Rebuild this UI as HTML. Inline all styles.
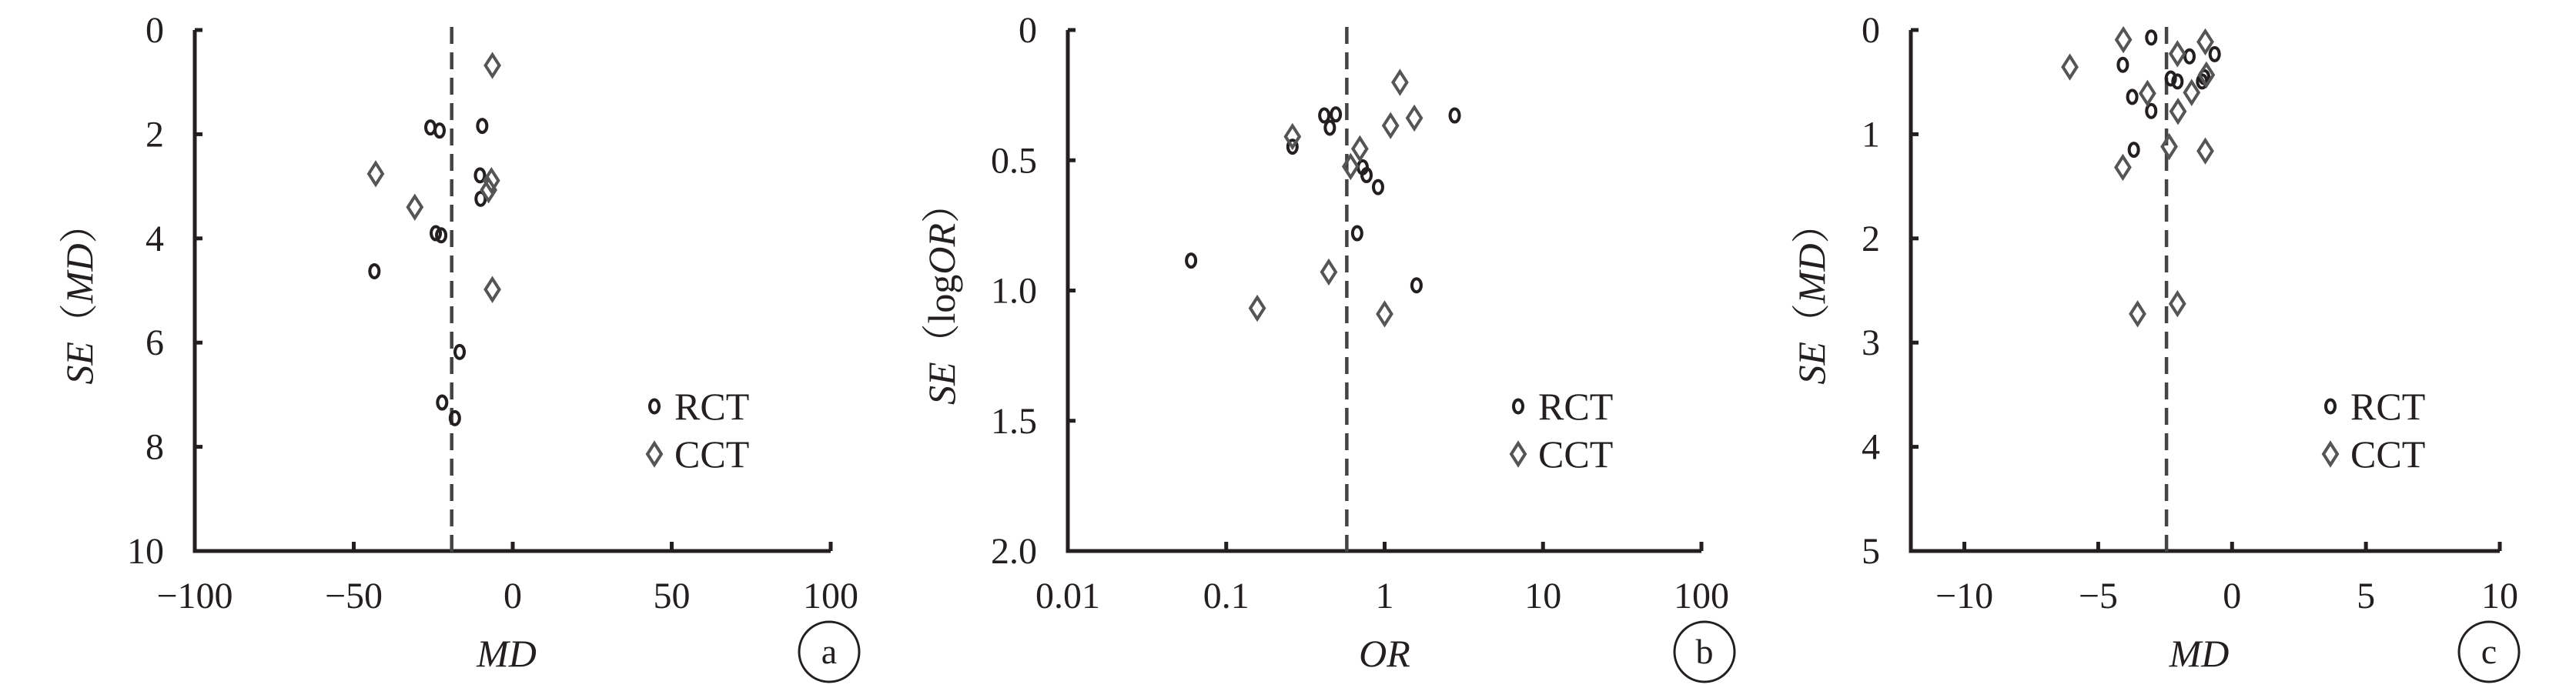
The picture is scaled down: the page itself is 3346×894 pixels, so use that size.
<!DOCTYPE html>
<html><head><meta charset="utf-8"><style>
html,body{margin:0;padding:0;background:#fff}
svg{display:block}
text{font-family:"Liberation Serif","Noto Serif CJK SC",serif;fill:#231f20}
</style></head><body>
<svg id="fig" width="3346" height="894" viewBox="0 0 3346 894"></svg>
<script>
// Panel a data (MD vs SE)
const aRctMD = [-25.9,-23.0,-9.6,-10.3,-10.1,-24.2,-22.5,-43.5,-16.7,-22.2,-18.2];
const aRctSE = [1.87,1.93,1.84,2.79,3.24,3.90,3.94,4.63,6.18,7.15,7.45];
const aCctMD = [-6.4,-43.1,-30.8,-6.7,-7.6,-6.4];
const aCctSE = [0.68,2.76,3.40,2.89,3.07,4.98];
const aPooled = -19.2;
const aXTicks = [-100,-50,0,50,100];
const aYTicks = [0,2,4,6,8,10];
// Panel b data (OR vs SE(logOR))
const bRctOR = [0.060,0.262,0.416,0.492,0.451,0.727,0.769,0.909,0.671,2.77,1.59];
const bRctSE = [0.885,0.448,0.328,0.324,0.375,0.527,0.557,0.603,0.780,0.328,0.980];
const bCctOR = [1.25,1.09,1.54,0.262,0.698,0.610,0.444,0.157,1.0];
const bCctSE = [0.201,0.367,0.338,0.409,0.456,0.524,0.929,1.068,1.090];
const bPooled = 0.577;
const bXTicks = [0.01,0.1,1,10,100];
const bXTickLabels = ["0.01","0.1","1","10","100"];
const bYTicks = [0,0.5,1.0,1.5,2.0];
const bYTickLabels = ["0","0.5","1.0","1.5","2.0"];
// Panel c data (MD vs SE)
const cRctMD = [-3.02,-4.08,-1.59,-0.65,-2.29,-2.04,-1.12,-1.04,-3.73,-3.02,-3.67];
const cRctSE = [0.072,0.334,0.253,0.232,0.465,0.494,0.494,0.452,0.642,0.777,1.149];
const cCctMD = [-4.06,-1.0,-6.06,-2.04,-3.16,-1.51,-0.96,-2.02,-2.35,-1.0,-4.08,-3.53,-2.04];
const cCctSE = [0.093,0.114,0.355,0.228,0.608,0.600,0.431,0.781,1.119,1.161,1.318,2.724,2.627];
const cPooled = -2.45;
const cXTicks = [-10,-5,0,5,10];
const cYTicks = [0,1,2,3,4,5];

const NS="http://www.w3.org/2000/svg";
const svg=document.getElementById('fig');
function mk(tag,attrs,parent){const e=document.createElementNS(NS,tag);for(const k in attrs)e.setAttribute(k,attrs[k]);(parent||svg).appendChild(e);return e;}

function panel(o){
  const g=mk('g',{});
  
  
  const T=39,B=716,L=o.left,R=o.right;
  const xs=v=>L+(o.xf(v)-o.xf(o.xmin))/(o.xf(o.xmax)-o.xf(o.xmin))*(R-L);
  const ys=v=>T+(v-o.ymin)/(o.ymax-o.ymin)*(B-T);
  // axes
  const ax=mk('path',{d:`M${L} ${T} L${L} ${B} L${R} ${B}`,stroke:'#231f20','stroke-width':5,fill:'none'},g);
  
  
  o.yTicks.forEach((v,i)=>{
    const y=ys(v);
    mk('line',{x1:L,x2:L+10,y1:y,y2:y,stroke:'#231f20','stroke-width':5},g);
    const t=mk('text',{x:L-40,y:y+16,'text-anchor':'end','font-size':48},g);
    t.textContent=o.yLabels?o.yLabels[i]:String(v);
    
    
  });
  o.xTicks.forEach((v,i)=>{
    const x=xs(v);
    mk('line',{x1:x,x2:x,y1:B,y2:B-12,stroke:'#231f20','stroke-width':5},g);
    const t=mk('text',{x:x,y:790,'text-anchor':'middle','font-size':48},g);
    t.textContent=o.xLabels?o.xLabels[i]:String(v).replace('-','\u2212');
    
    
  });
  // pooled line
  const pl=mk('line',{x1:xs(o.pooled),x2:xs(o.pooled),y1:T-4,y2:B+4,stroke:'#444','stroke-width':4.5,'stroke-dasharray':'22 11'},g);
  
  
  // points
  o.rx.forEach((v,i)=>{
    const c=mk('ellipse',{cx:xs(v),cy:ys(o.ry[i]),rx:6,ry:8.5,fill:'none',stroke:'#231f20','stroke-width':4},g);
    
    
  });
  o.cx.forEach((v,i)=>{
    const x=xs(v),y=ys(o.cy[i]);
    const d=mk('path',{d:`M${x} ${y-14} L${x+9} ${y} L${x} ${y+14} L${x-9} ${y} Z`,fill:'none',stroke:'#555','stroke-width':4},g);
    
    
  });
  // legend
  const lg=mk('g',{},g);
  
  
  const lx=o.legX;
  mk('ellipse',{cx:lx,cy:528,rx:6,ry:8.5,fill:'none',stroke:'#231f20','stroke-width':4},lg);
  const t1=mk('text',{x:lx+26,y:545,'font-size':50},lg);t1.textContent='RCT';
  
  
  mk('path',{d:`M${lx} ${576} L${lx+9} ${590} L${lx} ${604} L${lx-9} ${590} Z`,fill:'none',stroke:'#555','stroke-width':4},lg);
  const t2=mk('text',{x:lx+26,y:607,'font-size':50},lg);t2.textContent='CCT';
  
  
  // axis titles
  const xt=mk('text',{x:(L+R)/2-(o.id==='b'?0:8),y:866,'text-anchor':'middle','font-size':50,'font-style':'italic'},g);
  xt.textContent=o.xTitle;
  
  
  const yt=mk('text',{x:0,y:0,'text-anchor':'middle','font-size':50,transform:`translate(${o.ytX},383) rotate(-90)`},g);
  yt.innerHTML=o.yTitle;
  
  
  // panel letter
  mk('circle',{cx:o.letX,cy:847,r:39,fill:'none',stroke:'#231f20','stroke-width':3},g);
  const lt=mk('text',{x:o.letX,y:862,'text-anchor':'middle','font-size':46},g);
  lt.textContent=o.id;
  
  
}
const lin=v=>v, lg10=v=>Math.log10(v);
panel({id:'a',left:253,right:1079,xmin:-100,xmax:100,xf:lin,ymin:0,ymax:10,xTicks:aXTicks,yTicks:aYTicks,
  pooled:aPooled,rx:aRctMD,ry:aRctSE,cx:aCctMD,cy:aCctSE,legX:850,xTitle:'MD',
  yTitle:'<tspan font-style="italic">SE</tspan>（<tspan font-style="italic">MD</tspan>）',ytX:120,letX:1077});
panel({id:'b',left:1387,right:2210,xmin:0.01,xmax:100,xf:lg10,ymin:0,ymax:2,xTicks:bXTicks,xLabels:bXTickLabels,yTicks:bYTicks,yLabels:bYTickLabels,
  pooled:bPooled,rx:bRctOR,ry:bRctSE,cx:bCctOR,cy:bCctSE,legX:1972,xTitle:'OR',
  yTitle:'<tspan font-style="italic">SE</tspan>（log<tspan font-style="italic">OR</tspan>）',ytX:1240,letX:2214});
panel({id:'c',left:2482,right:3247,xmin:-12,xmax:10,xf:lin,ymin:0,ymax:5,xTicks:cXTicks,yTicks:cYTicks,
  pooled:cPooled,rx:cRctMD,ry:cRctSE,cx:cCctMD,cy:cCctSE,legX:3027,xTitle:'MD',
  yTitle:'<tspan font-style="italic">SE</tspan>（<tspan font-style="italic">MD</tspan>）',ytX:2370,letX:3233});
</script>
</body></html>
